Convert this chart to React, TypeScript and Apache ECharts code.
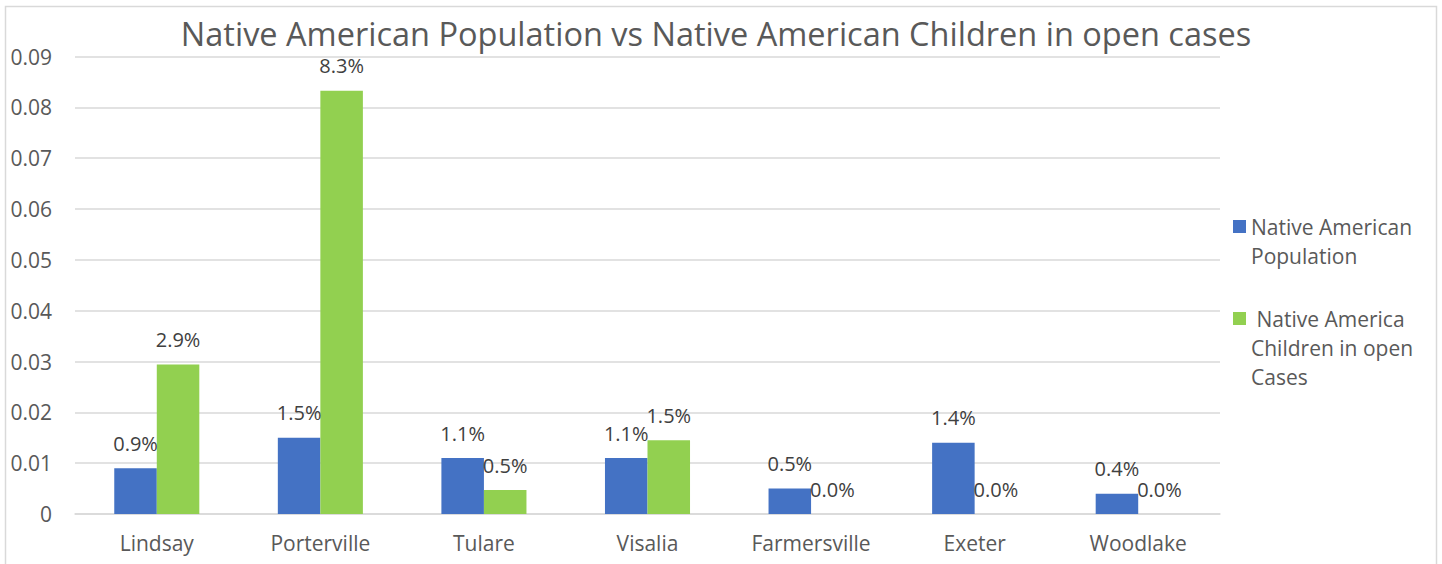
import React, { useEffect, useRef } from "react";
import * as echarts from "echarts";

const categories = ["Lindsay", "Porterville", "Tulare", "Visalia", "Farmersville", "Exeter", "Woodlake"];
const populationValues = [0.009, 0.015, 0.011, 0.011, 0.005, 0.014, 0.004];
const childrenValues = [0.0294, 0.0833, 0.0047, 0.0145, 0, 0, 0];
const seriesNames = ["Native American\nPopulation", " Native America\nChildren in open\nCases"];
const titleText = "Native American Population vs Native American Children in open cases";

const FONT = "Open Sans";

// legend icons: square aligned with the first text line
const icon2Lines = "path://M0,0L0.01,0M0,8L13,8L13,21L0,21ZM0,58L0.01,58";
const icon3Lines = "path://M0,0L0.01,0M0,8L13,8L13,21L0,21ZM0,87L0.01,87";

export default function App() {
  const ref = useRef<HTMLDivElement>(null);
  useEffect(() => {
    if (!ref.current) return;
    const chart = echarts.init(ref.current, null, { renderer: "svg" });
    const label = {
      show: true,
      position: "top",
      distance: 15,
      color: "#404040",
      fontFamily: FONT,
      fontSize: 20,
      lineHeight: 20,
      formatter: (p: any) => (p.value * 100).toFixed(1) + "%",
    };
    chart.setOption({
      animation: false,
      backgroundColor: "#ffffff",
      title: {
        text: titleText,
        left: 716,
        textAlign: "center",
        top: 18,
        padding: 0,
        textStyle: { color: "#595959", fontFamily: FONT, fontSize: 32.5, lineHeight: 30, fontWeight: "normal" },
      },
      graphic: [
        {
          type: "rect",
          shape: { x: 5.5, y: 6.5, width: 1431, height: 600 },
          style: { fill: "none", stroke: "#d9d9d9", lineWidth: 1.5 },
          silent: true,
        },
      ],
      legend: {
        orient: "vertical",
        left: 1228,
        top: 207,
        itemWidth: 13,
        itemHeight: 87,
        itemGap: 34,
        symbolKeepAspect: true,
        textStyle: { color: "#595959", fontFamily: FONT, fontSize: 21, lineHeight: 29 },
        data: [
          { name: seriesNames[0], icon: icon2Lines },
          { name: seriesNames[1], icon: icon3Lines },
        ],
      },
      grid: { left: 75, right: 222, top: 56.6, bottom: 50 },
      xAxis: {
        type: "category",
        data: categories,
        axisLine: { lineStyle: { color: "#d9d9d9", width: 1.5 } },
        axisTick: { show: false },
        axisLabel: { color: "#595959", fontFamily: FONT, fontSize: 21, margin: 18 },
      },
      yAxis: {
        type: "value",
        min: 0,
        max: 0.09,
        interval: 0.01,
        axisLine: { show: false },
        axisTick: { show: false },
        splitLine: { lineStyle: { color: "#d9d9d9", width: 1.5 } },
        axisLabel: {
          color: "#595959",
          fontFamily: FONT,
          fontSize: 21,
          margin: 23,
          formatter: (v: number) => (v === 0 ? "0" : v.toFixed(2)),
        },
      },
      series: [
        {
          name: seriesNames[0],
          type: "bar",
          data: populationValues,
          barGap: "0%",
          barCategoryGap: "48%",
          itemStyle: { color: "#4472c4" },
          label,
        },
        {
          name: seriesNames[1],
          type: "bar",
          data: childrenValues,
          barGap: "0%",
          barCategoryGap: "48%",
          itemStyle: { color: "#92d050" },
          label,
        },
      ],
    });
    return () => chart.dispose();
  }, []);
  return <div ref={ref} style={{ position: "fixed", left: 0, top: 0, width: 1442, height: 564 }} />;
}
